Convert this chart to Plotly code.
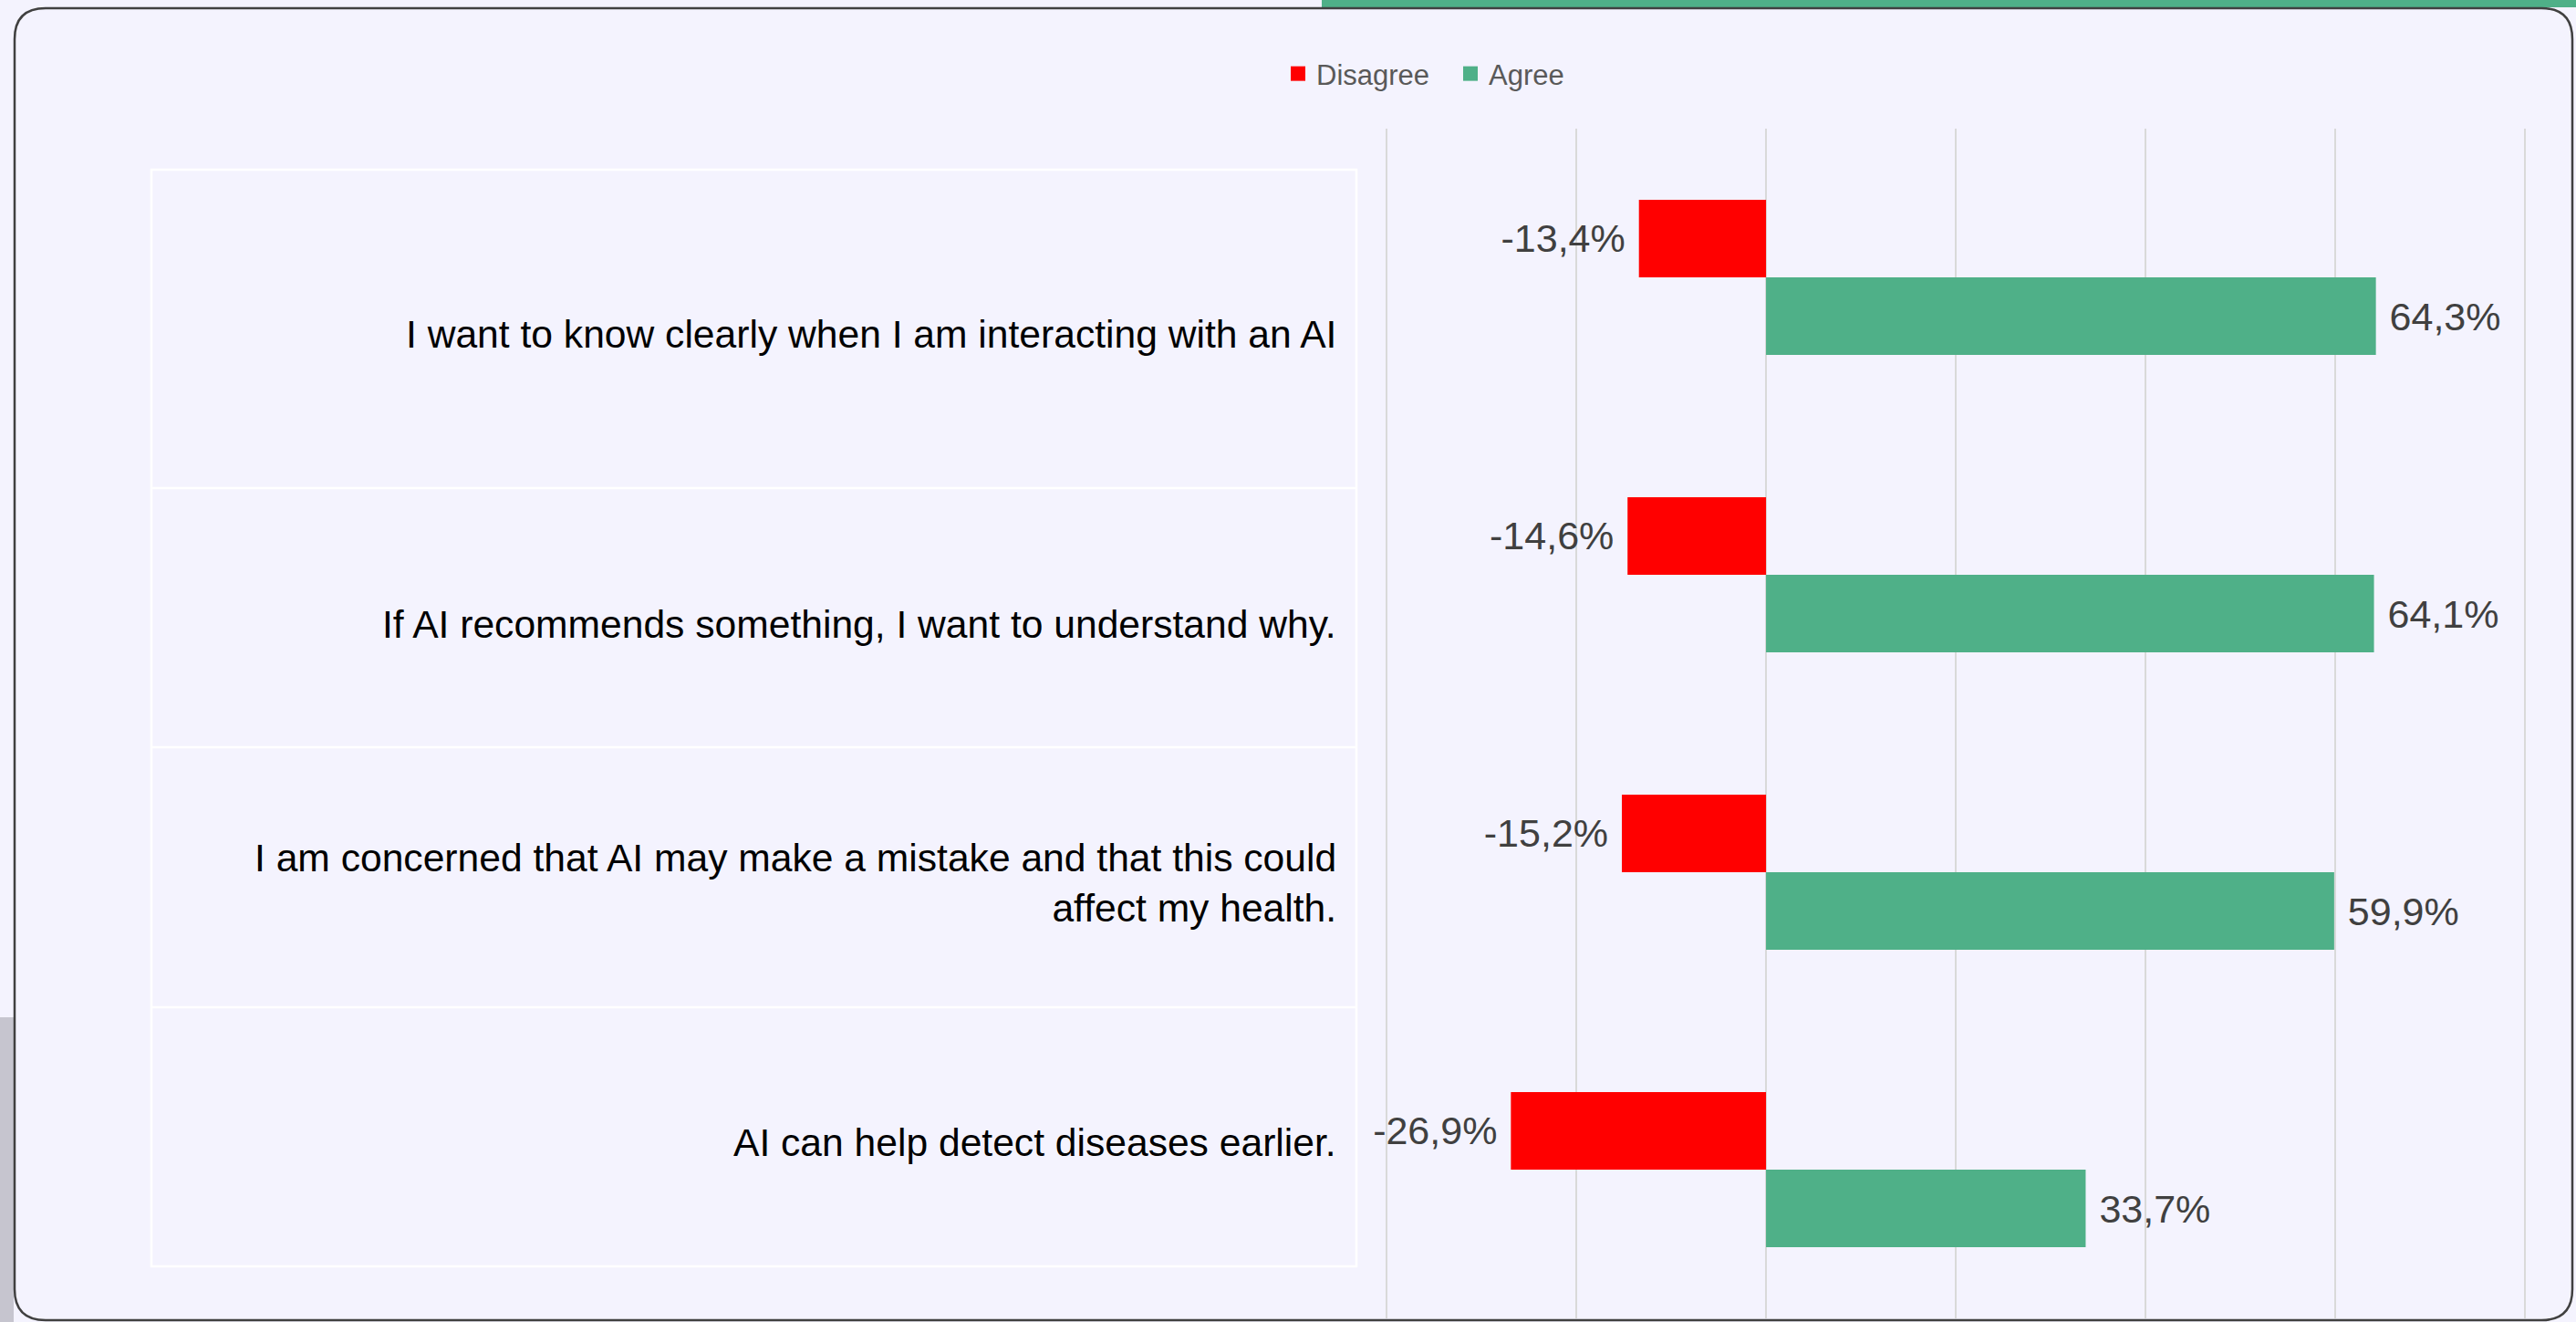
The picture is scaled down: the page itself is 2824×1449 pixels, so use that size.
import plotly.graph_objects as go

# ---------------- data ----------------
categories = [
    "I want to know clearly when I am interacting with an AI",
    "If AI recommends something, I want to understand why.",
    "I am concerned that AI may make a mistake and that this could<br>affect my health.",
    "AI can help detect diseases earlier.",
]
disagree = [-13.4, -14.6, -15.2, -26.9]
agree = [64.3, 64.1, 59.9, 33.7]
series_names = ["Disagree", "Agree"]

# ---------------- style ----------------
FONT = "Liberation Sans, Arial, sans-serif"
BG = "#F4F3FE"
RED = "#FF0000"
GREEN = "#4FB088"
LABEL = "#404040"

FIG_W, FIG_H = 2824, 1449
XMIN, XMAX, PADV = -40, 80, 0.3
L, R, T, B = 1517, 2771, 141, 1445          # plot area in pixels
PW, PH = R - L, B - T


def px(xp):
    return (xp - L) / PW


def py(yp):
    return 1 - (yp - T) / PH


def fmt(v):
    return "{:.1f}".format(v).replace(".", ",") + "%"


fig = go.Figure()
fig.add_trace(go.Bar(
    name=series_names[0], y=categories, x=disagree, orientation="h",
    marker=dict(color=RED, line=dict(width=0)),
    text=[fmt(v) + "\u00a0" for v in disagree], textposition="outside",
    textfont=dict(family=FONT, size=43, color=LABEL),
    cliponaxis=False, constraintext="none", hoverinfo="skip", showlegend=False,
))
fig.add_trace(go.Bar(
    name=series_names[1], y=categories, x=agree, orientation="h",
    marker=dict(color=GREEN, line=dict(width=0)),
    text=["\u00a0" + fmt(v) for v in agree], textposition="outside",
    textfont=dict(family=FONT, size=43, color=LABEL),
    cliponaxis=False, constraintext="none", hoverinfo="skip", showlegend=False,
))
# legend entries (square keys)
for name, col in zip(series_names, [RED, GREEN]):
    fig.add_trace(go.Scatter(
        name=name, x=[None], y=[None], mode="markers",
        marker=dict(symbol="square", size=16, color=col, line=dict(width=0)),
        hoverinfo="skip", showlegend=True,
    ))

shapes = []

# window artefacts outside the chart frame
shapes.append(dict(type="rect", xref="paper", yref="paper",
                   x0=px(1449), x1=px(2824), y0=py(0), y1=py(8),
                   fillcolor=GREEN, line=dict(width=0), layer="below"))
shapes.append(dict(type="rect", xref="paper", yref="paper",
                   x0=px(0), x1=px(15), y0=py(1115), y1=py(1449),
                   fillcolor="#C6C5CF", line=dict(width=0), layer="below"))

# rounded outer frame
x0, x1, y0, y1, r = 16, 2820, 9, 1447, 34
path = (
    f"M {px(x0 + r)},{py(y0)} L {px(x1 - r)},{py(y0)} "
    f"Q {px(x1)},{py(y0)} {px(x1)},{py(y0 + r)} "
    f"L {px(x1)},{py(y1 - r)} Q {px(x1)},{py(y1)} {px(x1 - r)},{py(y1)} "
    f"L {px(x0 + r)},{py(y1)} Q {px(x0)},{py(y1)} {px(x0)},{py(y1 - r)} "
    f"L {px(x0)},{py(y0 + r)} Q {px(x0)},{py(y0)} {px(x0 + r)},{py(y0)} Z"
)
shapes.append(dict(type="path", xref="paper", yref="paper", path=path,
                   line=dict(color="#404040", width=2.5), layer="above"))

# table on the left
tx0, tx1 = 166, 1487
row_lines = [186, 535, 819, 1104, 1388]
shapes.append(dict(type="rect", xref="paper", yref="paper",
                   x0=px(tx0), x1=px(tx1), y0=py(row_lines[0]), y1=py(row_lines[-1]),
                   line=dict(color="#FFFFFF", width=2.5), layer="below"))
for yl in row_lines[1:-1]:
    shapes.append(dict(type="line", xref="paper", yref="paper",
                       x0=px(tx0), x1=px(tx1), y0=py(yl), y1=py(yl),
                       line=dict(color="#FFFFFF", width=2.5), layer="below"))

text_y = [366, 684, 968, 1252]
annotations = []
for cat, yy in zip(categories, text_y):
    annotations.append(dict(
        text=cat, xref="paper", yref="paper", x=px(1467), y=py(yy),
        xanchor="right", yanchor="middle", align="right", showarrow=False,
        font=dict(family=FONT, size=42.6, color="#000000"),
    ))

fig.update_layout(
    width=FIG_W, height=FIG_H,
    margin=dict(l=L, r=FIG_W - R, t=T, b=FIG_H - B, pad=0),
    paper_bgcolor=BG, plot_bgcolor=BG,
    barmode="group", bargap=0.478, bargroupgap=0,
    font=dict(family=FONT, color=LABEL),
    showlegend=True,
    legend=dict(
        orientation="h", xref="container", yref="container",
        x=1403 / FIG_W, xanchor="left", y=1 - 81 / FIG_H, yanchor="middle",
        font=dict(family=FONT, size=31, color="#595959"),
        bgcolor="rgba(0,0,0,0)", itemclick=False, itemdoubleclick=False,
        traceorder="normal", entrywidth=144, entrywidthmode="pixels",
        itemsizing="trace",
    ),
    xaxis=dict(
        range=[XMIN - PADV, XMAX + PADV], dtick=20, tick0=0, showgrid=True,
        gridcolor="#D9D9D9", gridwidth=2, zeroline=True,
        zerolinecolor="#D9D9D9", zerolinewidth=2,
        showticklabels=False, ticks="", showline=False, fixedrange=True,
    ),
    yaxis=dict(
        range=[3.5, -0.5], showticklabels=False, showgrid=False,
        zeroline=False, showline=False, ticks="", fixedrange=True,
    ),
    shapes=shapes,
    annotations=annotations,
)

fig.write_html(
    "out.html",
    config={"displayModeBar": False},
    post_script="document.body.style.margin='0';document.body.style.padding='0';",
)
